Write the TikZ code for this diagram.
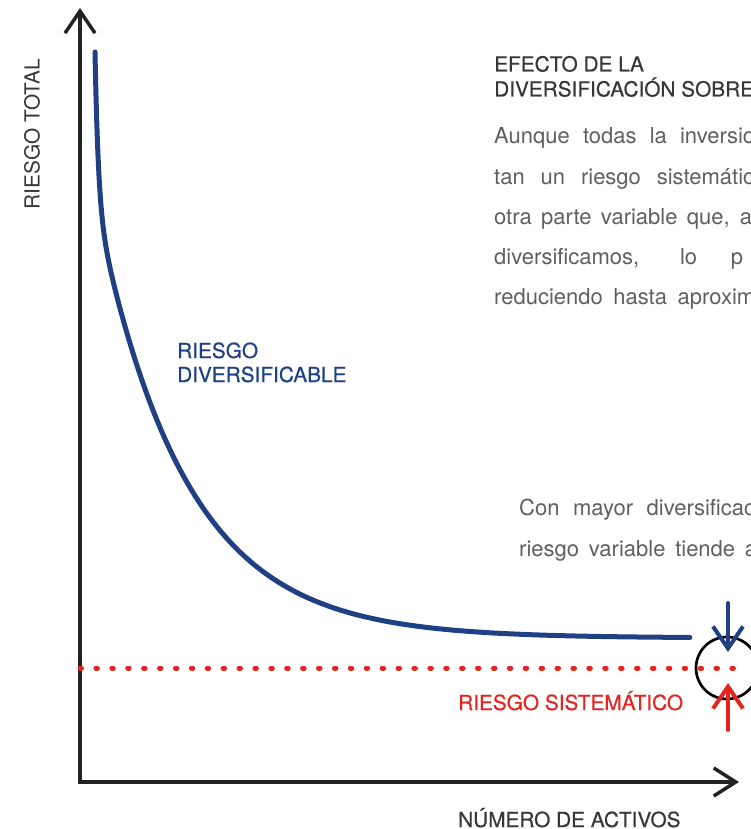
\documentclass[tikz,border=0pt]{standalone}
\usepackage{fontspec}
\setmainfont{TeX Gyre Heros}
\newfontfamily\medfont[FakeBold=0.45]{TeX Gyre Heros}
\usetikzlibrary{positioning,arrows.meta}
\definecolor{riskblue}{RGB}{31,64,130}
\definecolor{riskred}{RGB}{227,36,33}
\definecolor{axisgray}{RGB}{34,34,34}
\definecolor{labelgray}{RGB}{55,55,55}
\definecolor{textgray}{RGB}{95,95,95}

\begin{document}
\begin{tikzpicture}[x=1pt,y=-1pt,
	caplabel/.style={font=\fontsize{20.8}{24.5}\selectfont,inner sep=0pt,anchor=base west,text=labelgray},
	medlabel/.style={caplabel,font=\medfont\fontsize{20.8}{24.5}\selectfont},
	bodyline/.style={font=\fontsize{22}{40}\selectfont,inner sep=0pt,anchor=base west,text=textgray},
	barb/.style={-{Straight Barb[length=22pt,width=30pt]}},
	riskarrow/.style={barb,line width=4pt,line cap=round}]
		\useasboundingbox (0,0) rectangle (750,829);
		
		% axes
		\coordinate (O) at (80,782);
		\coordinate (ytop) at (80,8);
		\coordinate (xend) at (739,782);
		\draw[axisgray,line width=3.5pt,{Straight Barb[length=22pt,width=30pt]}-{Straight Barb[length=22pt,width=28pt]}] (ytop)--(O)--(xend);
		\node[caplabel,anchor=center,rotate=90] (ylab) at (32,134) {RIESGO TOTAL};
		\node[medlabel] (xlab) at (458,827) {NÚMERO DE ACTIVOS};
		
		% systematic risk
		\draw[riskred,line width=5pt,line cap=round,dash pattern=on 1.5pt off 14.4pt] (80,668)--(736,668);
		\node[medlabel,text=riskred] (sys) at (458,710) {RIESGO SISTEMÁTICO};
		
		% total risk curve
		\draw[riskblue,line width=5pt,line cap=round,line join=round] plot[smooth,domain=0:24.39,samples=110,variable=\t]
			({95+\t*\t},{638-436*exp(-0.0112*\t*\t)-150*exp(max(-0.3*\t*\t,-30))});
		\node[medlabel,text=riskblue] (div1) at (177,358) {RIESGO};
		\node[medlabel,text=riskblue] (div2) at ([yshift=-24pt]div1.base west) {DIVERSIFICABLE};
		
		% limit
		\node[circle,draw=black,line width=2.7pt,minimum size=62pt,inner sep=0pt] (lim) at (727,668) {};
		\coordinate (bluetop) at (728,603);
		\coordinate (blueend) at (728,652);
		\coordinate (redbot) at (728,730);
		\coordinate (redend) at (728,683);
		\draw[riskarrow,riskblue] (bluetop)--(blueend);
		\draw[riskarrow,riskred] (redbot)--(redend);
		
		% texts
		\node[medlabel] (title1) at (494,71.5) {EFECTO DE LA};
		\node[medlabel] (title2) at ([yshift=-25pt]title1.base west) {DIVERSIFICACIÓN SOBRE};
		\node[bodyline] (p1) at (494,144) {\makebox[261pt][s]{Aunque todas la inversio}};
		\node[bodyline] (p2) at ([yshift=-40.2pt]p1.base west) {\makebox[260pt][s]{tan un riesgo sistemátic}};
		\node[bodyline] (p3) at ([yshift=-40.2pt]p2.base west) {\makebox[258pt][s]{otra parte variable que, a}};
		\node[bodyline] (p4) at ([yshift=-40.2pt]p3.base west) {\makebox[249pt][s]{diversificamos, lo p}};
		\node[bodyline] (p5) at ([yshift=-40.2pt]p4.base west) {\makebox[261pt][s]{reduciendo hasta aproxim}};
		\node[bodyline] (q1) at (519,515) {\makebox[236pt][s]{Con mayor diversificac}};
		\node[bodyline] (q2) at ([yshift=-41pt]q1.base west) {\makebox[238pt][s]{riesgo variable tiende a}};
	\end{tikzpicture}
\end{document}
